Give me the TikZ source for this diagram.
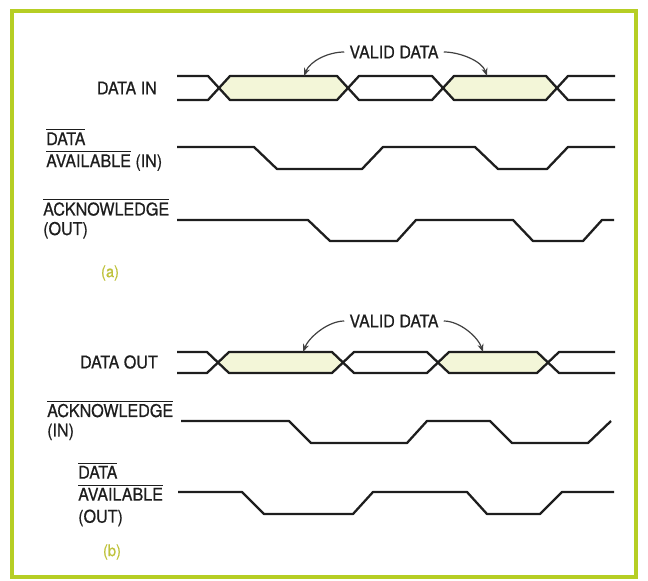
\documentclass[tikz,border=0pt]{standalone}
\usepackage{fontspec}
\setmainfont{TeX Gyre Heros}[FakeStretch=0.92, FakeBold=0.6]
\usetikzlibrary{arrows.meta}
\definecolor{bordergreen}{HTML}{B6CE24}
\definecolor{validfill}{HTML}{F3F6D8}
\definecolor{tagcol}{HTML}{BFC23C}
\definecolor{inkblack}{HTML}{1E1E1E}
% overlined signal name
\newcommand{\ovl}[1]{\leavevmode\vbox{\hrule height 1.2pt\kern 2pt\hbox{#1}}}

\begin{document}
\begin{tikzpicture}[
  x=1pt, y=-1pt,
  lbl/.style={font=\fontsize{17.5}{22}\selectfont, text=inkblack, inner sep=0pt, align=left},
  sig/.style={line width=2.3pt, draw=inkblack, line join=round},
  valid/.style={fill=validfill, draw=none},
  pointer/.style={-{Stealth[length=8pt,width=6pt]}, line width=1.2pt, draw=inkblack!85},
  tag/.style={font=\fontsize{16}{16}\selectfont, text=tagcol, inner sep=0pt}
]
\useasboundingbox (0,0) rectangle (648,581);
\draw[bordergreen, line width=4.5pt] (12,11) rectangle (636,577);

% (a) handshake in
\fill[valid] (219,88) -- (230,76) -- (337,76) -- (348,88) -- (337,100) -- (230,100) -- cycle;
\fill[valid] (443,88) -- (454,76) -- (546,76) -- (557,88) -- (546,100) -- (454,100) -- cycle;
\draw[sig] (177,76) -- (208,76) -- (230,100) -- (337,100) -- (359,76) -- (432,76) -- (454,100) -- (546,100) -- (568,76) -- (615,76);
\draw[sig] (177,100) -- (208,100) -- (230,76) -- (337,76) -- (359,100) -- (432,100) -- (454,76) -- (546,76) -- (568,100) -- (615,100);
\draw[sig] (177,147) -- (254,147) -- (277,169) -- (362,169) -- (383,147) -- (475,147) -- (498,169) -- (547,169) -- (568,147) -- (615,147);
\draw[sig] (177,220) -- (308,220) -- (330,241) -- (397,241) -- (416,220) -- (513,220) -- (533,241) -- (583,241) -- (602,220) -- (614,220);

\node[lbl, anchor=east] (datain) at (157,88) {DATA IN};
\node[lbl, anchor=north west] (davin) at (46,129) {\ovl{DATA}\\\ovl{AVAILABLE} (IN)};
\node[lbl, anchor=north west, font=\fontsize{17.5}{19.5}\selectfont] (ackout) at (43,199) {\ovl{ACKNOWLEDGE}\\(OUT)};
\node[tag] (taga) at (110,273) {(a)};
\node[lbl, inner sep=5pt] (valida) at (394,52) {VALID DATA};
\coordinate (tipa1) at (304,76);
\coordinate (tipa2) at (487,76);
\draw[pointer] (valida.west) .. controls +(-16,0) and +(6,-15) .. (tipa1);
\draw[pointer] (valida.east) .. controls +(16,0) and +(-5,-15) .. (tipa2);

% (b) handshake out
\fill[valid] (218,362.5) -- (229,352) -- (332,352) -- (343,362.5) -- (332,373) -- (229,373) -- cycle;
\fill[valid] (438,362.5) -- (449,352) -- (537,352) -- (548,362.5) -- (537,373) -- (449,373) -- cycle;
\draw[sig] (177,352) -- (207,352) -- (229,373) -- (332,373) -- (354,352) -- (427,352) -- (449,373) -- (537,373) -- (559,352) -- (615,352);
\draw[sig] (177,373) -- (207,373) -- (229,352) -- (332,352) -- (354,373) -- (427,373) -- (449,352) -- (537,352) -- (559,373) -- (615,373);
\draw[sig] (181,421) -- (289,421) -- (311,443) -- (407,443) -- (427,421) -- (490,421) -- (512,443) -- (588,443) -- (611,421);
\draw[sig] (178,492) -- (242,492) -- (264,514) -- (353,514) -- (373,492) -- (467,492) -- (487,514) -- (540,514) -- (562,492) -- (614,492);

\node[lbl, anchor=east] (dataout) at (158,362) {DATA OUT};
\node[lbl, anchor=north west, font=\fontsize{17.5}{19.5}\selectfont] (ackin) at (47,400.5) {\ovl{ACKNOWLEDGE}\\(IN)};
\node[lbl, anchor=north west] (davout) at (78,462.5) {\ovl{DATA}\\\ovl{AVAILABLE}\\(OUT)};
\node[tag] (tagb) at (112,552) {(b)};
\node[lbl, inner sep=5pt] (validb) at (394,321) {VALID DATA};
\coordinate (tipb1) at (303,352);
\coordinate (tipb2) at (483,352);
\draw[pointer] (validb.west) .. controls +(-16,0) and +(6,-15) .. (tipb1);
\draw[pointer] (validb.east) .. controls +(16,0) and +(-5,-15) .. (tipb2);
\end{tikzpicture}
\end{document}
